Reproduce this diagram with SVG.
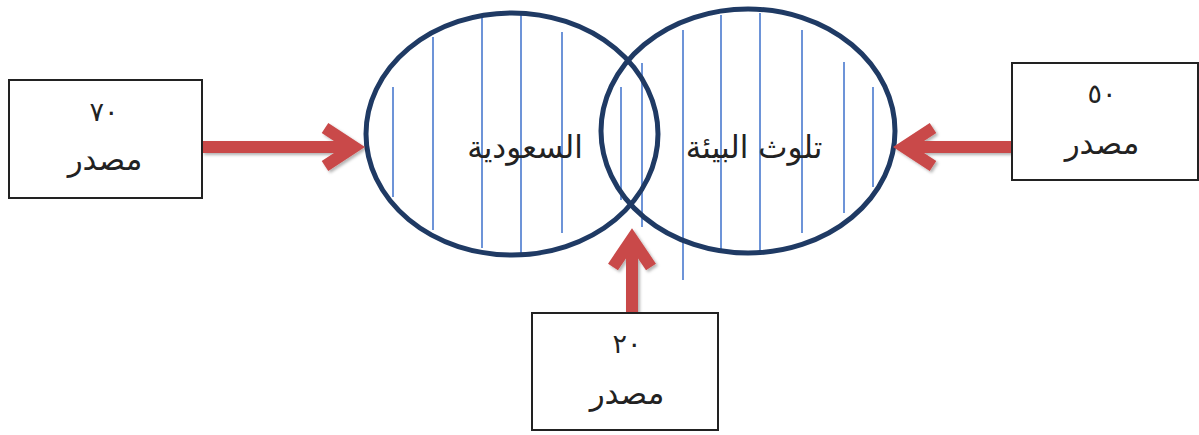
<svg xmlns="http://www.w3.org/2000/svg" width="1199" height="435" viewBox="0 0 1199 435">
<defs>
<filter id="sh" x="-20%" y="-20%" width="140%" height="140%">
<feDropShadow dx="2" dy="2" stdDeviation="1.5" flood-color="#000" flood-opacity="0.3"/>
</filter>
</defs>
<style>
.box{fill:#fff;stroke:#222;stroke-width:2}
.ell{fill:none;stroke:#1f3a64;stroke-width:5}
.hatch{stroke:#6d94d8;stroke-width:2}
.arr{fill:none;stroke:#c94a4a;stroke-width:12;stroke-linejoin:miter}
.t{font-family:"DejaVu Sans",sans-serif;fill:#222;text-anchor:middle}
.lbl{font-size:31px}
.num{font-size:27px}
</style>
<rect width="1199" height="435" fill="#fff"/>
<g id="hatching">
<line class="hatch" x1="393" y1="87" x2="393" y2="197"/>
<line class="hatch" x1="433" y1="37" x2="433" y2="230"/>
<line class="hatch" x1="482" y1="15" x2="482" y2="248"/>
<line class="hatch" x1="521" y1="13" x2="521" y2="253"/>
<line class="hatch" x1="562" y1="32" x2="562" y2="233"/>
<line class="hatch" x1="621" y1="87" x2="621" y2="200"/>
<line class="hatch" x1="642" y1="63" x2="642" y2="227"/>
<line class="hatch" x1="683" y1="30" x2="683" y2="280"/>
<line class="hatch" x1="721" y1="15" x2="721" y2="253"/>
<line class="hatch" x1="760" y1="13" x2="760" y2="250"/>
<line class="hatch" x1="802" y1="30" x2="802" y2="233"/>
<line class="hatch" x1="844" y1="62" x2="844" y2="213"/>
<line class="hatch" x1="873" y1="87" x2="873" y2="187"/>
</g>
<g id="node-saudi">
<ellipse class="ell" cx="512" cy="134" rx="146" ry="121"/>
<text class="t lbl" x="525" y="158">السعودية</text>
</g>
<g id="node-pollution">
<ellipse class="ell" cx="748" cy="131" rx="147" ry="122"/>
<text class="t lbl" x="754" y="158">تلوث البيئة</text>
</g>
<g id="connectors" filter="url(#sh)">
<path class="arr" d="M202 147 H354 M325 128 L354 147 L325 166"/>
<path class="arr" d="M1012 147 H904 M933 128 L904 147 L933 166"/>
<path class="arr" d="M632 313 V239 M613 267 L632 239 L651 267"/>
</g>
<g id="node-src70">
<rect class="box" x="9" y="80" width="193" height="118"/>
<text class="t num" x="104" y="121">٧٠</text>
<text class="t lbl" x="105" y="170">مصدر</text>
</g>
<g id="node-src50">
<rect class="box" x="1012" y="63" width="186" height="117"/>
<text class="t num" x="1102" y="103">٥٠</text>
<text class="t lbl" x="1102" y="154">مصدر</text>
</g>
<g id="node-src20">
<rect class="box" x="532" y="313" width="186" height="117"/>
<text class="t num" x="627" y="353">٢٠</text>
<text class="t lbl" x="627" y="404">مصدر</text>
</g>
</svg>
